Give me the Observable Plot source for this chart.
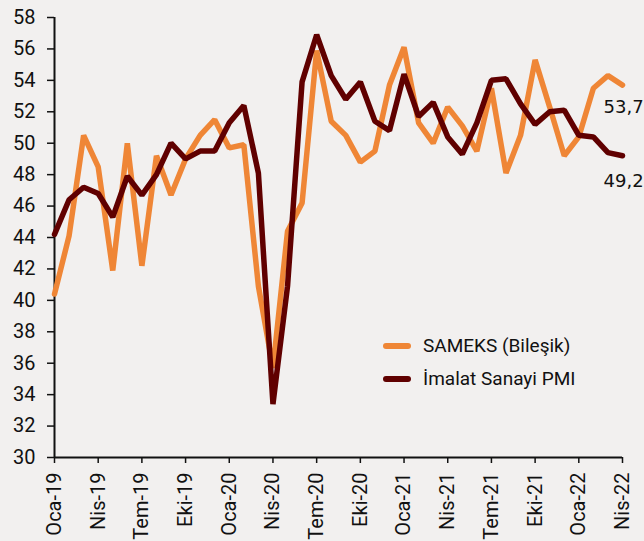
<!DOCTYPE html>
<html>
<head>
<meta charset="utf-8">
<script src="https://cdn.jsdelivr.net/npm/d3@7"></script>
<script src="https://cdn.jsdelivr.net/npm/@observablehq/plot@0.6"></script>
<style>
  html, body { margin: 0; padding: 0; background: #f2f0ef; }
  #wrap { position: relative; width: 644px; height: 541px; overflow: hidden; }
  .legend { position: absolute; left: 383px; top: 329px; font-family: Roboto, sans-serif; font-size: 19px; color: #111; }
  .legend .row { display: flex; align-items: center; height: 33px; }
  .legend .sw { width: 28px; height: 6px; border-radius: 3px; margin-right: 12px; }
</style>
</head>
<body>
<div id="wrap"></div>
<script>
const months = ["Oca-19","Şub-19","Mar-19","Nis-19","May-19","Haz-19","Tem-19","Ağu-19","Eyl-19","Eki-19","Kas-19","Ara-19",
  "Oca-20","Şub-20","Mar-20","Nis-20","May-20","Haz-20","Tem-20","Ağu-20","Eyl-20","Eki-20","Kas-20","Ara-20",
  "Oca-21","Şub-21","Mar-21","Nis-21","May-21","Haz-21","Tem-21","Ağu-21","Eyl-21","Eki-21","Kas-21","Ara-21",
  "Oca-22","Şub-22","Mar-22","Nis-22"];
const sameks = [40.4,44.1,50.5,48.5,41.9,50.0,42.2,49.2,46.7,49.0,50.5,51.5,
  49.7,49.9,40.9,35.7,44.4,46.2,55.9,51.4,50.5,48.8,49.5,53.7,
  56.1,51.3,50.0,52.3,51.1,49.5,53.5,48.1,50.5,55.3,52.3,49.2,
  50.4,53.5,54.3,53.7];
const pmi = [44.2,46.4,47.2,46.8,45.3,47.9,46.7,48.0,50.0,49.0,49.5,49.5,
  51.3,52.4,48.1,33.4,40.9,53.9,56.9,54.3,52.8,53.9,51.4,50.8,
  54.4,51.7,52.6,50.4,49.3,51.3,54.0,54.1,52.5,51.2,52.0,52.1,
  50.5,50.4,49.4,49.2];
const tickLabels = ["Oca-19","Nis-19","Tem-19","Eki-19","Oca-20","Nis-20","Tem-20","Eki-20","Oca-21","Nis-21","Tem-21","Eki-21","Oca-22","Nis-22"];
const yTicks = [30,32,34,36,38,40,42,44,46,48,50,52,54,56,58];
const seriesNames = ["SAMEKS (Bileşik)", "İmalat Sanayi PMI"];
const colors = ["#ef8636", "#600000"];

const sData = months.map((m, i) => ({i, value: sameks[i]}));
const pData = months.map((m, i) => ({i, value: pmi[i]}));
const tickIdx = tickLabels.map(l => months.indexOf(l));
const fmt = v => v.toFixed(1).replace(".", ",");

const chart = Plot.plot({
  width: 644,
  height: 541,
  marginLeft: 54,
  marginTop: 17,
  marginBottom: 84,
  marginRight: 22,
  style: { background: "#f2f0ef", fontFamily: "Roboto, sans-serif", fontSize: "20px", color: "#111", overflow: "visible" },
  x: { domain: [0, months.length - 1], label: null },
  y: { domain: [30, 58], label: null },
  marks: [
    Plot.axisY({ ticks: yTicks, tickSize: 7, tickPadding: 12, label: null, fontSize: 20, stroke: "#111", strokeWidth: 1.5 }),
    Plot.axisX({ ticks: tickIdx, tickFormat: i => months[i], tickSize: 6, tickPadding: 9, tickRotate: -90, label: null, fontSize: 20, stroke: "#111", strokeWidth: 1.5 }),
    Plot.ruleX([0], { stroke: "#111", strokeWidth: 2 }),
    Plot.ruleY([30], { stroke: "#111", strokeWidth: 2 }),
    Plot.line(sData, { x: "i", y: "value", stroke: colors[0], strokeWidth: 5.5, strokeLinejoin: "miter", strokeLinecap: "round" }),
    Plot.line(pData, { x: "i", y: "value", stroke: colors[1], strokeWidth: 5.5, strokeLinejoin: "miter", strokeLinecap: "round" }),
    Plot.text(sData.slice(-1), { x: "i", y: "value", text: d => fmt(d.value), dx: -19, dy: 22, textAnchor: "start", fontSize: 18, fontFamily: "DejaVu Sans, sans-serif", fill: "#111" }),
    Plot.text(pData.slice(-1), { x: "i", y: "value", text: d => fmt(d.value), dx: -19, dy: 25, textAnchor: "start", fontSize: 18, fontFamily: "DejaVu Sans, sans-serif", fill: "#111" })
  ]
});
document.getElementById("wrap").appendChild(chart);

const legend = document.createElement("div");
legend.className = "legend";
seriesNames.forEach((n, k) => {
  const r = document.createElement("div");
  r.className = "row";
  const sw = document.createElement("span");
  sw.className = "sw";
  sw.style.background = colors[k];
  const t = document.createElement("span");
  t.textContent = n;
  r.appendChild(sw); r.appendChild(t);
  legend.appendChild(r);
});
document.getElementById("wrap").appendChild(legend);
</script>
</body>
</html>
